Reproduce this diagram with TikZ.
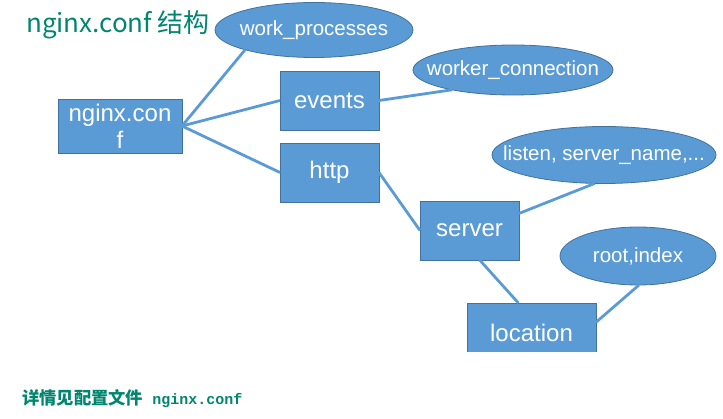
\documentclass[tikz,border=0pt]{standalone}
\usepackage{fontspec}
\setmainfont{Liberation Sans}
\newfontfamily\cjkfont{Noto Sans CJK SC}
\newfontfamily\monofont{Liberation Mono}
\usetikzlibrary{shapes.geometric}
\definecolor{boxblue}{RGB}{91,155,213}
\definecolor{boxedge}{RGB}{65,113,156}
\definecolor{tealtxt}{RGB}{0,133,110}
\newcommand{\zw}[1]{\makebox[0pt]{#1}}
\begin{document}
\begin{tikzpicture}[x=1pt,y=-1pt,
  box/.style={rectangle, fill=boxblue, draw=boxedge, line width=0.8pt, text=white,
    font=\fontsize{24}{27}\selectfont, inner sep=0pt, outer sep=0pt, align=center},
  oval/.style={ellipse, fill=boxblue, draw=boxedge, line width=0.8pt, text=white,
    font=\fontsize{20.5}{23}\selectfont, inner sep=0pt, outer sep=0pt},
  link/.style={draw=boxblue, line width=2.8pt}]
\useasboundingbox (0,0) rectangle (723,419);
% title and note
\node[anchor=base west, text=tealtxt, font=\cjkfont\fontsize{26}{30}\selectfont, inner sep=0pt] (title) at (26,33) {nginx.conf 结构};
\node[anchor=base west, text=tealtxt, inner sep=0pt] (note) at (22,405)
  {{\cjkfont\bfseries\fontsize{17.3}{20}\selectfont 详情见配置文件}{\monofont\bfseries\fontsize{15}{18}\selectfont\ nginx.conf}};
% boxes
\node[box, minimum width=124pt, minimum height=54pt] (conf) at (120,126) {nginx.con\\f};
\node[box, minimum width=99pt, minimum height=59pt] (ev) at (329.5,100.5) {events};
\node[box, minimum width=99pt, minimum height=59pt] (ht) at (329.5,172.5) {http};
\node[box, minimum width=99pt, minimum height=59pt] (sv) at (469.5,230.5) {server};
\begin{scope}
  \clip (0,0) rectangle (723,352);
  \node[box, minimum width=129pt, minimum height=59pt] (loc) at (531.5,332.5) {location};
\end{scope}
% ellipses
\node[oval, minimum width=198pt, minimum height=55pt] (wp) at (314,30) {\zw{work\_processes}};
\node[oval, minimum width=200pt, minimum height=50pt] (wc) at (513,70) {\zw{worker\_connection}};
\node[oval, minimum width=224pt, minimum height=57pt] (ls) at (604,155) {\zw{listen, server\_name,...}};
\node[oval, minimum width=156pt, minimum height=58pt] (rt) at (638,256) {\zw{root,index}};
% links
\draw[link] (conf.east) -- (wp.196);
\draw[link] (conf.east) -- (ev.west);
\draw[link] (conf.east) -- (ht.west);
\draw[link] (ev.east) -- (wc.198);
\draw[link] (ht.east) -- (sv.west);
\draw[link] (sv.19.5) -- (ls.252);
\draw[link] (sv.-71) -- (loc.114.6);
\draw[link] (loc.9) -- (rt.272);
\end{tikzpicture}
\end{document}
